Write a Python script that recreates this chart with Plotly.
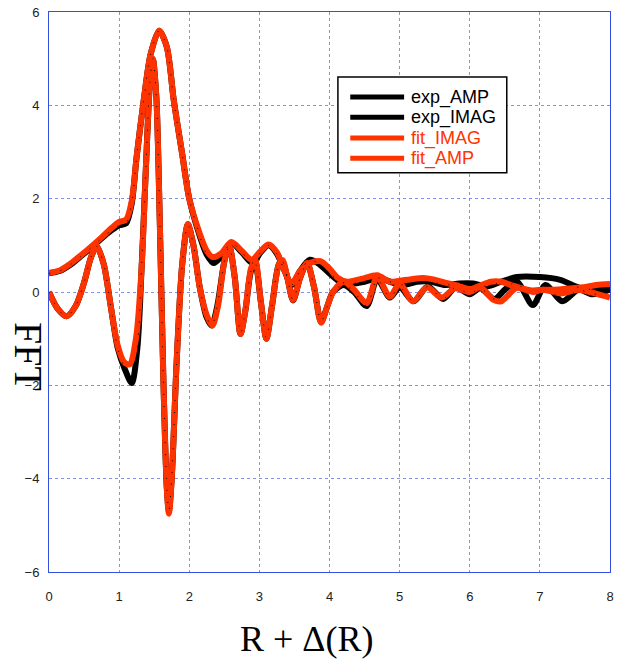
import plotly.graph_objects as go

# --- data ------------------------------------------------------------------
exp_amp_r = [0.0, 0.15, 0.3, 0.45, 0.6, 0.75, 0.9, 1.0, 1.1, 1.18, 1.25, 1.35, 1.45, 1.57,
             1.68, 1.78, 1.9, 2.0, 2.15, 2.25, 2.35, 2.45, 2.6, 2.75, 2.9, 3.02, 3.13, 3.25,
             3.36, 3.46, 3.58, 3.72, 3.85, 4.0, 4.15, 4.3, 4.5, 4.7, 4.9, 5.05, 5.25, 5.45,
             5.65, 5.85, 6.05, 6.25, 6.43, 6.67, 7.0, 7.29, 7.57, 7.81, 8.0]
exp_amp = [0.40, 0.45, 0.58, 0.76, 0.95, 1.15, 1.33, 1.43, 1.47, 1.9, 2.9, 4.1, 5.1, 5.6,
           5.25, 4.1, 2.95, 2.0, 1.2, 0.8, 0.62, 0.75, 1.05, 0.85, 0.62, 0.85, 1.0, 0.82,
           0.45, 0.15, 0.45, 0.69, 0.6, 0.4, 0.22, 0.18, 0.22, 0.3, 0.2, 0.15, 0.22, 0.22,
           0.15, 0.18, 0.18, 0.12, 0.21, 0.32, 0.32, 0.26, 0.09, 0.05, 0.1]

exp_imag_r = [0.0, 0.12, 0.25, 0.38, 0.5, 0.6, 0.68, 0.78, 0.88, 0.98, 1.08, 1.18, 1.26,
              1.32, 1.38, 1.44, 1.48, 1.53, 1.58, 1.63, 1.68, 1.71, 1.75, 1.82, 1.9, 1.98,
              2.06, 2.15, 2.25, 2.32, 2.4, 2.5, 2.57, 2.65, 2.73, 2.8, 2.88, 2.94, 3.02,
              3.1, 3.18, 3.28, 3.33, 3.4, 3.48, 3.58, 3.68, 3.78, 3.88, 3.97, 4.05, 4.2,
              4.35, 4.53, 4.68, 4.86, 5.0, 5.2, 5.4, 5.62, 5.8, 6.0, 6.15, 6.35, 6.5, 6.67,
              6.9, 7.08, 7.32, 7.55, 7.75, 8.0]
exp_imag = [0.0, -0.35, -0.52, -0.3, 0.2, 0.75, 0.98, 0.6, -0.3, -1.2, -1.65, -1.95, -1.2,
            0.5, 2.6, 4.5, 5.0, 4.2, 1.5, -1.8, -4.2, -4.7, -4.0, -1.5, 0.6, 1.45,
            1.0, 0.1, -0.55, -0.72, -0.3, 0.65, 0.98, 0.3, -0.9, -0.4, 0.45, 0.62, -0.2,
            -1.0, -0.3, 0.6, 0.65, 0.3, -0.18, 0.3, 0.62, 0.1, -0.64, -0.3, 0.0, 0.15,
            0.0, -0.3, 0.28, -0.12, 0.1, -0.2, 0.12, -0.15, 0.1, -0.05, 0.08, -0.15, 0.05, 0.22,
            -0.28, 0.15, -0.2, 0.05, -0.05, 0.05]

fit_imag_r = [0.0, 0.12, 0.25, 0.38, 0.5, 0.6, 0.68, 0.78, 0.88, 0.98, 1.07, 1.15, 1.24,
              1.32, 1.38, 1.44, 1.48, 1.53, 1.58, 1.63, 1.68, 1.71, 1.75, 1.82, 1.9, 1.98,
              2.06, 2.15, 2.25, 2.33, 2.41, 2.5, 2.57, 2.65, 2.73, 2.8, 2.88, 2.94, 3.02,
              3.1, 3.18, 3.28, 3.33, 3.4, 3.48, 3.58, 3.68, 3.78, 3.88, 3.97, 4.05, 4.2,
              4.35, 4.53, 4.68, 4.86, 5.0, 5.19, 5.39, 5.6, 5.79, 6.0, 6.15, 6.34, 6.45,
              6.67, 6.9, 7.05, 7.3, 7.55, 7.86, 8.0]
fit_imag = [0.0, -0.35, -0.52, -0.3, 0.2, 0.75, 0.98, 0.6, -0.3, -1.15, -1.5, -1.55, -1.0,
            0.5, 2.6, 4.5, 5.0, 4.2, 1.5, -1.8, -4.2, -4.75, -4.0, -1.5, 0.6, 1.45,
            1.0, 0.1, -0.5, -0.72, -0.3, 0.65, 0.98, 0.3, -0.9, -0.4, 0.5, 0.68, -0.2,
            -1.0, -0.3, 0.6, 0.68, 0.3, -0.17, 0.3, 0.62, 0.1, -0.66, -0.3, 0.0, 0.22,
            0.05, -0.24, 0.33, -0.1, 0.18, -0.2, 0.1, -0.12, 0.08, 0.0, 0.1, -0.17, -0.2,
            0.09, 0.0, 0.05, -0.03, 0.05, -0.06, -0.12]

fit_amp_r = [0.0, 0.15, 0.3, 0.45, 0.6, 0.75, 0.9, 1.0, 1.1, 1.18, 1.25, 1.35, 1.45, 1.57,
             1.68, 1.78, 1.9, 2.0, 2.15, 2.25, 2.33, 2.45, 2.6, 2.75, 2.89, 3.02, 3.13, 3.25,
             3.36, 3.46, 3.58, 3.72, 3.87, 4.0, 4.12, 4.25, 4.45, 4.68, 4.86, 5.0, 5.15,
             5.34, 5.48, 5.65, 5.82, 6.0, 6.15, 6.3, 6.45, 6.6, 6.72, 6.9, 7.05, 7.2, 7.4,
             7.62, 7.8, 8.0]
fit_amp = [0.41, 0.46, 0.6, 0.78, 0.97, 1.17, 1.38, 1.5, 1.55, 1.95, 2.9, 4.1, 5.1, 5.6,
           5.25, 4.1, 2.95, 2.0, 1.25, 0.88, 0.75, 0.82, 1.07, 0.88, 0.69, 0.88, 1.02, 0.85,
           0.45, 0.18, 0.45, 0.62, 0.66, 0.5, 0.3, 0.22, 0.28, 0.36, 0.22, 0.24, 0.27,
           0.3, 0.27, 0.2, 0.14, 0.06, 0.14, 0.22, 0.22, 0.14, 0.09, 0.03, 0.05, 0.05, 0.07,
           0.1, 0.15, 0.17]

series = [
    ("exp_AMP", exp_amp_r, exp_amp, "#000000"),
    ("exp_IMAG", exp_imag_r, exp_imag, "#000000"),
    ("fit_IMAG", fit_imag_r, fit_imag, "#ff3300"),
    ("fit_AMP", fit_amp_r, fit_amp, "#ff3300"),
]

GRID = "rgba(90,110,230,0.75)"
FRAME = "#3550e0"

fig = go.Figure()
for name, xs, ys, color in series:
    fig.add_trace(go.Scatter(
        x=xs, y=ys, mode="lines", name=name, showlegend=False,
        line={"color": color, "width": 6, "shape": "spline", "smoothing": 0.8},
    ))
# sparse data dots of the experiment showing through the fit
for name, xs, ys, color in series[:2]:
    fig.add_trace(go.Scatter(
        x=xs, y=ys, mode="lines", showlegend=False, hoverinfo="skip",
        line={"color": "#000000", "width": 1, "shape": "spline", "smoothing": 0.8,
              "dash": "1px,11px"},
    ))

axis_common = dict(
    showgrid=True, gridcolor=GRID, griddash="dot", gridwidth=1,
    showline=True, linecolor=FRAME, linewidth=1, mirror=True,
    zeroline=False, ticks="", automargin=False, ticklabeloverflow="allow",
    tickfont={"family": "Liberation Sans, Arial", "size": 13, "color": "#222"},
)
fig.update_xaxes(range=[0, 8], dtick=1, ticklabelstandoff=12, **axis_common)
fig.update_yaxes(range=[-6, 6], dtick=2, ticklabelstandoff=6, **axis_common)

# legend box drawn by hand to match the long line samples
fig.add_shape(type="rect", xref="paper", yref="paper",
              x0=0.515, x1=0.816, y0=0.713, y1=0.884,
              line={"color": "#000", "width": 1.5}, fillcolor="white", layer="above")
leg_y = [0.848, 0.812, 0.775, 0.739]
for (name, _, _, color), ly in zip(series, leg_y):
    fig.add_shape(type="line", xref="paper", yref="paper",
                  x0=0.537, x1=0.633, y0=ly, y1=ly,
                  line={"color": color, "width": 5}, layer="above")
    fig.add_annotation(xref="paper", yref="paper", x=0.641, y=ly, text=name,
                       showarrow=False, xanchor="left", yanchor="middle",
                       font={"family": "Liberation Sans, Arial", "size": 18, "color": color})

fig.add_annotation(xref="paper", yref="paper", x=0.5 - (329 - 306) / 561, y=-(639 - 572) / 560,
                   text="R + Δ(R)", showarrow=False, yanchor="middle",
                   font={"family": "Liberation Serif, Times New Roman", "size": 36, "color": "#000"})
fig.add_annotation(xref="paper", yref="paper", x=-(49 - 29) / 561, y=(572 - 356) / 560,
                   text="FFT", showarrow=False, textangle=90,
                   xanchor="center", yanchor="middle",
                   font={"family": "Liberation Serif, Times New Roman", "size": 40, "color": "#000"})

fig.update_layout(
    width=618, height=659,
    margin={"l": 49, "r": 8, "t": 12, "b": 87},
    paper_bgcolor="white", plot_bgcolor="white",
    showlegend=False,
)

# drop the browser's default body margin so the figure sits at the page corner
fig.write_html("out.html", config={"displayModeBar": False},
               post_script="document.body.style.margin='0';")
